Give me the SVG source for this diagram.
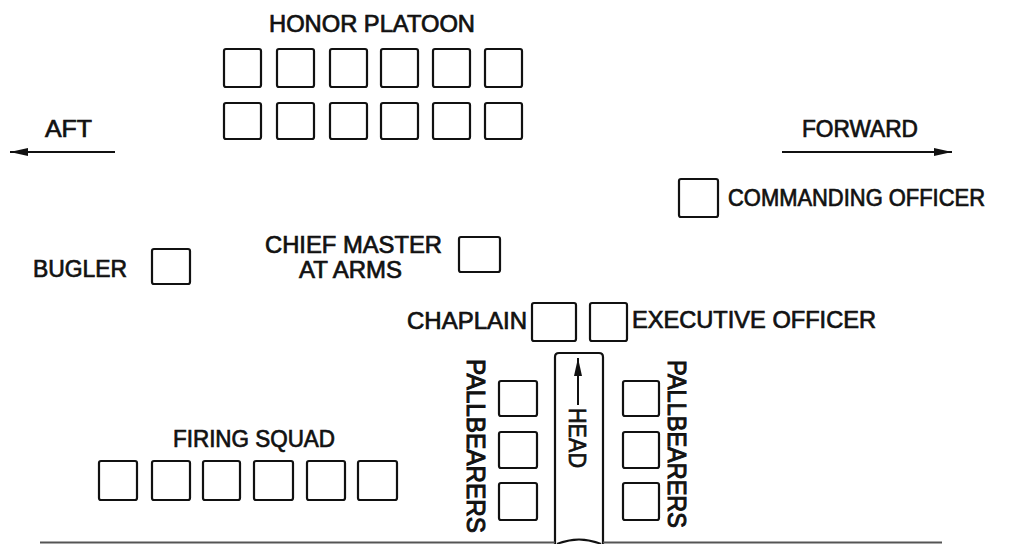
<svg xmlns="http://www.w3.org/2000/svg" width="1009" height="544" viewBox="0 0 1009 544">
<style>
.b{fill:none;stroke:#111;stroke-width:2.2}
.t{font-family:"Liberation Sans",Arial,sans-serif;font-size:23px;fill:#111;stroke:#111;stroke-width:0.7}
.p{font-family:"Liberation Sans",Arial,sans-serif;font-size:25px;fill:#111;stroke:#111;stroke-width:1}
.l{stroke:#111;stroke-width:2;fill:none}
</style>
<defs>
<marker id="ah" viewBox="0 0 18 10" refX="18" refY="5" markerWidth="18" markerHeight="10" markerUnits="userSpaceOnUse" orient="auto">
<path d="M0,1 L18,5 L0,9 Z" fill="#111"/>
</marker>
</defs>
<rect width="1009" height="544" fill="#fff"/>

<g id="honor-platoon">
<text class="t" x="269" y="32" textLength="206" lengthAdjust="spacingAndGlyphs">HONOR PLATOON</text>
<rect class="b" x="224" y="49" width="37" height="38" rx="2"/>
<rect class="b" x="277" y="49" width="37" height="38" rx="2"/>
<rect class="b" x="330" y="49" width="37" height="38" rx="2"/>
<rect class="b" x="381" y="49" width="37" height="38" rx="2"/>
<rect class="b" x="433" y="49" width="37" height="38" rx="2"/>
<rect class="b" x="485" y="49" width="37" height="38" rx="2"/>
<rect class="b" x="224" y="103" width="37" height="36" rx="2"/>
<rect class="b" x="277" y="103" width="37" height="36" rx="2"/>
<rect class="b" x="330" y="103" width="37" height="36" rx="2"/>
<rect class="b" x="381" y="103" width="37" height="36" rx="2"/>
<rect class="b" x="433" y="103" width="37" height="36" rx="2"/>
<rect class="b" x="485" y="103" width="37" height="36" rx="2"/>
</g>

<g id="aft">
<text class="t" x="45" y="137" textLength="47" lengthAdjust="spacingAndGlyphs">AFT</text>
</g>
<g id="forward">
<text class="t" x="802" y="137" textLength="116" lengthAdjust="spacingAndGlyphs">FORWARD</text>
</g>

<g id="commanding-officer">
<rect class="b" x="679" y="179" width="39" height="38" rx="2"/>
<text class="t" x="728" y="206" textLength="257" lengthAdjust="spacingAndGlyphs">COMMANDING OFFICER</text>
</g>

<g id="bugler">
<text class="t" x="33" y="277" textLength="94" lengthAdjust="spacingAndGlyphs">BUGLER</text>
<rect class="b" x="152" y="249" width="38" height="35" rx="2"/>
</g>

<g id="chief-master-at-arms">
<text class="t" x="265" y="253" textLength="177" lengthAdjust="spacingAndGlyphs">CHIEF MASTER</text>
<text class="t" x="299" y="278" textLength="103" lengthAdjust="spacingAndGlyphs">AT ARMS</text>
<rect class="b" x="459" y="237" width="41" height="35" rx="2"/>
</g>

<g id="chaplain">
<text class="t" x="407" y="329" textLength="120" lengthAdjust="spacingAndGlyphs">CHAPLAIN</text>
<rect class="b" x="532" y="303" width="44" height="38" rx="2"/>
</g>

<g id="executive-officer">
<rect class="b" x="590" y="303" width="37" height="38" rx="2"/>
<text class="t" x="632" y="328" textLength="244" lengthAdjust="spacingAndGlyphs">EXECUTIVE OFFICER</text>
</g>

<g id="pallbearers-left">
<text class="p" transform="translate(467,359) rotate(90)" textLength="174" lengthAdjust="spacingAndGlyphs">PALLBEARERS</text>
<rect class="b" x="499" y="381" width="38" height="35" rx="2"/>
<rect class="b" x="499" y="432" width="38" height="36" rx="2"/>
<rect class="b" x="499" y="483" width="38" height="37" rx="2"/>
</g>

<g id="pallbearers-right">
<text class="p" transform="translate(668,360) rotate(90)" textLength="168" lengthAdjust="spacingAndGlyphs">PALLBEARERS</text>
<rect class="b" x="623" y="381" width="36" height="35" rx="2"/>
<rect class="b" x="623" y="432" width="36" height="36" rx="2"/>
<rect class="b" x="623" y="483" width="36" height="37" rx="2"/>
</g>

<g id="firing-squad">
<text class="t" x="173" y="447" textLength="162" lengthAdjust="spacingAndGlyphs">FIRING SQUAD</text>
<rect class="b" x="99" y="461" width="38" height="39" rx="2"/>
<rect class="b" x="152" y="461" width="38" height="39" rx="2"/>
<rect class="b" x="203" y="461" width="37" height="39" rx="2"/>
<rect class="b" x="254" y="461" width="39" height="39" rx="2"/>
<rect class="b" x="307" y="461" width="38" height="39" rx="2"/>
<rect class="b" x="358" y="461" width="39" height="39" rx="2"/>
</g>

<g id="casket">
<path class="b" d="M555,546 V357 Q555,353 559,353 H599 Q603,353 603,357 V546"/>
<path class="l" d="M557,544 Q579,535 601,544"/>
<text class="t" transform="translate(569,408) rotate(90)" textLength="60" lengthAdjust="spacingAndGlyphs">HEAD</text>
</g>

<g id="connectors">
<line class="l" x1="115" y1="152" x2="10" y2="152" marker-end="url(#ah)"/>
<line class="l" x1="782" y1="152" x2="952" y2="152" marker-end="url(#ah)"/>
<line class="l" x1="578" y1="405" x2="578" y2="358" marker-end="url(#ah)"/>
<line x1="40" y1="542.5" x2="555" y2="542.5" stroke="#555" stroke-width="2"/>
<line x1="603" y1="542.5" x2="942" y2="542.5" stroke="#555" stroke-width="2"/>
</g>
</svg>
